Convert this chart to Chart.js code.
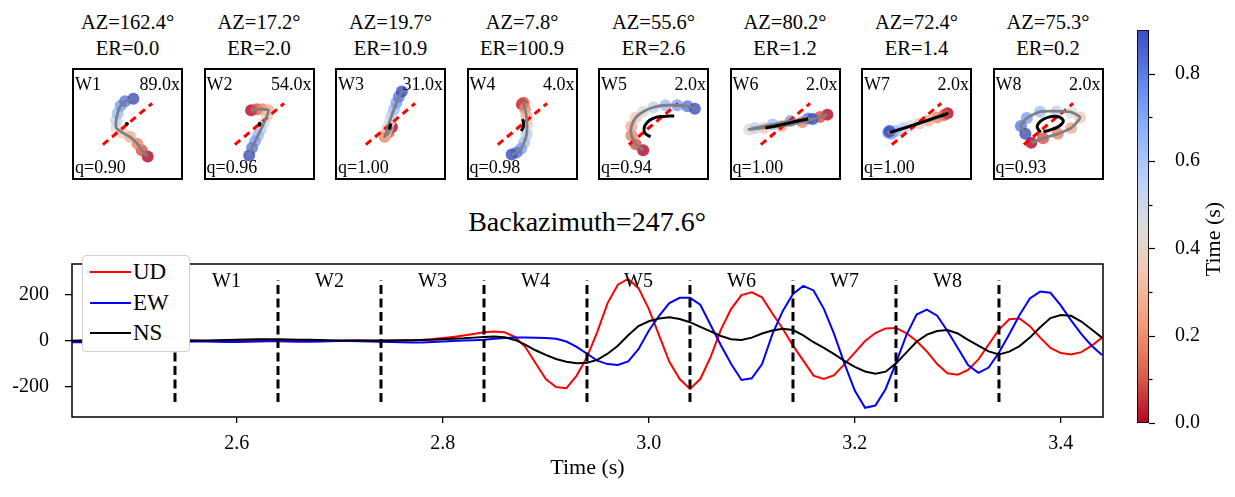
<!DOCTYPE html>
<html lang="en">
<head>
<meta charset="UTF-8">
<title>Particle motion windows</title>
<script src="https://cdn.jsdelivr.net/npm/chart.js@4"></script>
<style>
  body { margin: 0; width: 1235px; height: 497px; background: #fff; position: relative; overflow: hidden;
         font-family: "Liberation Serif", "DejaVu Serif", serif; color: #000; }
  .pm { position: absolute; top: 68px; width: 111px; height: 112px; border: 2px solid #000; box-sizing: border-box; }
  .pm canvas { position: absolute; left: 0; top: 0; }
  .ttl { position: absolute; top: 10px; width: 160px; text-align: center; font-size: 20.5px; line-height: 25.5px; }
  .tag { position: absolute; font-size: 18px; line-height: 18px; white-space: nowrap; }
  #title { position: absolute; left: 337px; width: 500px; top: 206px; text-align: center; font-size: 28px; line-height: 32px; }
  #legend { position: absolute; left: 82px; top: 255px; width: 108px; height: 97px; box-sizing: border-box;
            border: 1px solid #cfcfcf; border-radius: 4px; background: #fff; }
  .lrow { position: absolute; left: 0; height: 26px; font-size: 23px; line-height: 26px; }
  .lrow span.sw { position: absolute; left: 7px; top: 12px; width: 41px; height: 2px; }
  .lrow span.tx { position: absolute; left: 50px; top: 0; }
  #cbtitle { position: absolute; left: 1163px; top: 226px; width: 100px; text-align: center; font-size: 22px; line-height: 26px;
             transform: rotate(-90deg); }
  canvas { display: block; }
</style>
</head>
<body>

<div id="panels"></div>
<div id="title">Backazimuth=247.6°</div>
<canvas id="wave" width="1120" height="261" style="position:absolute;left:0;top:236px;"></canvas>
<div id="legend"></div>
<canvas id="cbar" width="135" height="497" style="position:absolute;left:1100px;top:0;"></canvas>
<div id="cbtitle">Time (s)</div>

<script>
// waveform samples, 2.44 s to 3.44 s every 0.01 s
var sampleStart = 2.44
var sampleStep = 0.01

var seriesNames = ['UD', 'EW', 'NS']
var seriesColors = ['#ff0000', '#0000ff', '#000000']

var udValues = [0,1,2,2,1,0,0,1,2,3, 3,2,1,0,0,1,2,3,4,4, 3,2,1,0,-1,0,1,2,2,1, 1,2,3,4,
  6,9,13,18,24,31,38,42,38,18,-25,-95,-165,-200,-205,-150,
  -70,40,165,245,270,230,140,25,-90,-165,-208,-165,-70,50,140,200,212,190,
  120,55,-20,-85,-150,-165,-148,-100,-50,0,35,55,57,35,0,-45,
  -100,-140,-146,-125,-80,-15,50,95,98,65,15,-30,-52,-58,-48,-20,15]

var ewValues = [-5,-5,-6,-5,-4,-3,-3,-4,-5,-5, -4,-3,-2,-2,-3,-4,-4,-3,-2,-1, -1,-2,-3,-3,-2,-1,0,0,-1,-2, -3,-4,-5,-6,
  -6,-4,-2,0,2,4,6,10,13,15,15,14,13,10,-2,-25,
  -55,-85,-100,-104,-88,-35,45,110,165,188,188,158,70,-18,-100,-169,-162,-100,
  30,130,205,240,220,140,30,-98,-215,-290,-280,-208,-95,25,115,137,110,
  44,-30,-104,-138,-115,-50,30,113,185,215,210,155,90,30,-20,-60]

var nsValues = [1,2,2,1,0,0,1,2,2,3, 4,4,3,3,4,5,6,7,8,8, 8,7,6,6,5,4,3,2,2,2, 3,3,4,4,
  5,6,8,10,12,15,18,20,17,5,-15,-40,-60,-78,-90,-96,
  -94,-82,-55,-20,25,65,86,98,104,96,82,62,42,22,8,5,15,33,
  46,54,48,25,-5,-30,-57,-86,-112,-132,-142,-133,-97,-50,-3,28,44,
  48,33,5,-20,-45,-58,-46,-22,15,60,100,113,110,85,50,15]

var xTicks = [2.6, 2.8, 3.0, 3.2, 3.4]
var yTicks = [-200, 0, 200]

// analysis windows
var windowEdges = [2.54, 2.64, 2.74, 2.84, 2.94, 3.04, 3.14, 3.24, 3.34]
var windowNames = ['W1', 'W2', 'W3', 'W4', 'W5', 'W6', 'W7', 'W8']
var windowAz = ['162.4', '17.2', '19.7', '7.8', '55.6', '80.2', '72.4', '75.3']
var windowER = ['0.0', '2.0', '10.9', '100.9', '2.6', '1.2', '1.4', '0.2']
var windowGain = ['89.0', '54.0', '31.0', '4.0', '2.0', '2.0', '2.0', '2.0']
var windowQ = ['0.90', '0.96', '1.00', '0.98', '0.94', '1.00', '1.00', '0.93']

// particle motion (E, N) in panel units, scaled by the gain
var motionScaled = [
  [[0.41,-0.66],[0.29,-0.53],[0.20,-0.40],[0.05,-0.26],[-0.11,-0.17],[-0.23,-0.08],[-0.23,0.07],[-0.20,0.22],[-0.14,0.37],[-0.05,0.46],[0.12,0.51]],
  [[-0.17,0.28],[-0.06,0.30],[0.06,0.30],[0.18,0.28],[0.15,0.16],[0.09,0.02],[0.03,-0.11],[-0.03,-0.23],[-0.09,-0.35],[-0.15,-0.48],[-0.21,-0.64]],
  [[0.03,-0.06],[-0.04,-0.17],[-0.12,-0.26],[-0.10,-0.20],[-0.06,-0.08],[-0.02,0.04],[0.02,0.16],[0.07,0.30],[0.12,0.43],[0.17,0.55],[0.23,0.66]],
  [[-0.01,0.40],[0.02,0.43],[0.05,0.31],[0.08,0.16],[0.09,0.01],[0.09,-0.14],[0.08,-0.23],[0.03,-0.38],[-0.03,-0.50],[-0.12,-0.58],[-0.22,-0.62]],
  [[-0.21,-0.53],[-0.36,-0.41],[-0.45,-0.23],[-0.45,-0.05],[-0.36,0.13],[-0.21,0.25],[0.00,0.34],[0.24,0.38],[0.48,0.38],[0.69,0.36],[0.84,0.31]],
  [[0.85,0.19],[0.70,0.14],[0.34,0.04],[-0.08,-0.04],[-0.44,-0.08],[-0.74,-0.11],[-0.62,-0.08],[-0.26,-0.01],[0.10,0.06],[0.46,0.11],[0.55,0.10]],
  [[0.63,0.22],[0.56,0.18],[0.42,0.13],[0.24,0.07],[0.06,0.01],[-0.12,-0.04],[-0.27,-0.08],[-0.42,-0.14],[-0.51,-0.20],[-0.57,-0.17],[-0.55,-0.14]],
  [[-0.35,-0.38],[-0.11,-0.29],[0.19,-0.20],[0.46,-0.08],[0.64,0.13],[0.46,0.24],[0.16,0.26],[-0.17,0.25],[-0.44,0.12],[-0.56,-0.04],[-0.47,-0.20]]
]
// unscaled particle motion
var motionActual = [
  [[-0.015,0.0],[-0.01,0.005]],
  [[0.0,-0.02],[0.005,0.01]],
  [[-0.02,-0.08],[0.0,-0.02]],
  [[0.0,0.10],[0.02,0.03],[0.02,-0.04],[0.0,-0.10],[-0.03,-0.14]],
  [[-0.06,-0.26],[-0.17,-0.19],[-0.19,-0.08],[-0.13,0.03],[-0.02,0.11],[0.14,0.15],[0.30,0.16],[0.42,0.16]],
  [[-0.41,-0.08],[-0.10,-0.02],[0.20,0.05],[0.46,0.10]],
  [[-0.54,-0.17],[-0.30,-0.10],[0.0,0.0],[0.30,0.10],[0.62,0.21],[0.50,0.16]],
  [[-0.16,-0.17],[-0.23,-0.06],[-0.16,0.06],[0.0,0.14],[0.20,0.15],[0.30,0.07],[0.22,-0.04],[0.04,-0.12],[-0.10,-0.16]]
]
var azLine = [[-0.5,-0.42],[0.5,0.42]]

var cbarTicks = [0, 0.1, 0.2, 0.3, 0.4, 0.5, 0.6, 0.7, 0.8]

var serif = '"Liberation Serif", "DejaVu Serif", serif'

// coolwarm, reversed (red = early)
var cmapStops = ['#b40426','#de604c','#f49a7b','#f4c4ad','#dddcdc','#b8d0f9','#8db0fe','#6282ea','#3b4cc0']
function hexRgb(h) {
  return [parseInt(h.substr(1,2),16), parseInt(h.substr(3,2),16), parseInt(h.substr(5,2),16)]
}
function timeColor(f, alpha) {
  var p = f * (cmapStops.length - 1)
  var i = Math.min(Math.floor(p), cmapStops.length - 2)
  var r = p - i
  var a = hexRgb(cmapStops[i]), b = hexRgb(cmapStops[i+1])
  var c = a.map(function(v, k) { return Math.round(v + (b[k] - v) * r) })
  return 'rgba(' + c[0] + ',' + c[1] + ',' + c[2] + ',' + alpha + ')'
}

Chart.defaults.font.family = serif
Chart.defaults.color = '#000'

// ---------- particle motion panels ----------
var panelsDiv = document.getElementById('panels')
windowNames.forEach(function(name, i) {
  var left = 72 + i * 131.5
  var t = document.createElement('div')
  t.className = 'ttl'
  t.style.left = (left + 55.5 - 80) + 'px'
  t.innerHTML = 'AZ=' + windowAz[i] + '°<br>ER=' + windowER[i]
  panelsDiv.appendChild(t)

  var box = document.createElement('div')
  box.className = 'pm'
  box.style.left = left + 'px'
  var cv = document.createElement('canvas')
  cv.width = 107; cv.height = 108
  box.appendChild(cv)
  var tags = [[name, 'left:1px;top:5px;'], [windowGain[i] + 'x', 'right:1px;top:5px;'], ['q=' + windowQ[i], 'left:1px;top:88px;']]
  tags.forEach(function(tg) {
    var d = document.createElement('div')
    d.className = 'tag'
    d.style.cssText = tg[1]
    d.textContent = tg[0]
    box.appendChild(d)
  })
  panelsDiv.appendChild(box)

  var pts = motionScaled[i].map(function(p) { return {x: p[0], y: p[1]} })
  var blk = motionActual[i].map(function(p) { return {x: p[0], y: p[1]} })
  new Chart(cv, {
    type: 'scatter',
    data: { datasets: [
      { data: blk, showLine: true, borderColor: '#000', borderWidth: 3, pointRadius: blk.length < 3 ? 1.8 : 0,
        pointBackgroundColor: '#000', pointBorderWidth: 0, tension: 0.3, order: 0 },
      { data: pts, showLine: true, borderColor: '#808080', borderWidth: 2.8, pointRadius: 0, tension: 0.2, order: 1 },
      { data: azLine.map(function(p) { return {x: p[0], y: p[1]} }), showLine: true, borderColor: '#ff0000',
        borderDash: [7, 5], borderWidth: 3, pointRadius: 0, order: 2 },
      { data: pts, showLine: false, pointRadius: 6, pointBorderWidth: 0,
        pointBackgroundColor: pts.map(function(p, k) { return timeColor(k / (pts.length - 1), 0.8) }), order: 3 }
    ]},
    options: {
      responsive: false, animation: false,
      layout: { padding: 0 },
      plugins: { legend: { display: false }, tooltip: { enabled: false } },
      scales: {
        x: { display: false, min: -0.964, max: 0.964 },
        y: { display: false, min: -0.973, max: 0.973 }
      }
    }
  })
})

// ---------- waveforms ----------
function toPoints(vals) {
  return vals.map(function(v, k) { return {x: +(sampleStart + k * sampleStep).toFixed(2), y: v} })
}
var waveSets = [udValues, ewValues, nsValues].map(function(vals, i) {
  return { label: seriesNames[i], data: toPoints(vals), showLine: true, borderColor: seriesColors[i],
           borderWidth: 2, pointRadius: 0, order: 3 - i }
})
var dashSpan = 265
var dashSets = windowEdges.map(function(e) {
  return { data: [{x: e, y: -dashSpan}, {x: e, y: dashSpan}], showLine: true, borderColor: '#000',
           borderWidth: 3, borderDash: [9, 4.5], pointRadius: 0, order: -1 }
})

var framePlugin = {
  id: 'frame',
  afterDraw: function(chart) {
    var a = chart.chartArea, c = chart.ctx
    c.save()
    c.strokeStyle = '#000'
    c.lineWidth = 1.5
    c.strokeRect(a.left, a.top, a.right - a.left, a.bottom - a.top)
    c.restore()
  }
}
var windowLabelPlugin = {
  id: 'wlabels',
  afterDatasetsDraw: function(chart) {
    var c = chart.ctx, xs = chart.scales.x, ys = chart.scales.y
    c.save()
    c.font = '20px ' + serif
    c.fillStyle = '#000'
    c.textAlign = 'center'
    c.textBaseline = 'middle'
    windowNames.forEach(function(n, i) {
      var mid = (windowEdges[i] + windowEdges[i+1]) / 2
      c.fillText(n, xs.getPixelForValue(mid), ys.getPixelForValue(258))
    })
    c.restore()
  }
}

new Chart(document.getElementById('wave'), {
  type: 'scatter',
  data: { datasets: waveSets.concat(dashSets) },
  options: {
    responsive: false, animation: false,
    layout: { padding: { left: 0, right: 17, top: 8, bottom: 12 } },
    plugins: { legend: { display: false }, tooltip: { enabled: false } },
    scales: {
      x: {
        type: 'linear', min: 2.44, max: 3.441,
        afterBuildTicks: function(s) { s.ticks = xTicks.map(function(v) { return {value: v} }) },
        afterFit: function(s) { s.height = 68 },
        ticks: { font: { size: 20 }, color: '#000', padding: 9, maxRotation: 0,
                 callback: function(v) { return v.toFixed(1) } },
        grid: { drawOnChartArea: false, tickLength: 6, color: '#000', lineWidth: 1.3 },
        border: { display: false },
        title: { display: true, text: 'Time (s)', font: { size: 22 }, color: '#000', padding: { top: 4, bottom: 4 } }
      },
      y: {
        min: -330, max: 335,
        afterBuildTicks: function(s) { s.ticks = yTicks.map(function(v) { return {value: v} }) },
        afterFit: function(s) { s.width = 72 },
        ticks: { font: { size: 20 }, color: '#000', padding: 16, callback: function(v) { return String(v) } },
        grid: { drawOnChartArea: false, tickLength: 7, color: '#000', lineWidth: 1.3 },
        border: { display: false }
      }
    }
  },
  plugins: [framePlugin, windowLabelPlugin]
})

// legend
var legendDiv = document.getElementById('legend')
seriesNames.forEach(function(n, i) {
  var row = document.createElement('div')
  row.className = 'lrow'
  row.style.top = (3 + i * 30.5) + 'px'
  row.innerHTML = '<span class="sw" style="background:' + seriesColors[i] + '"></span><span class="tx">' + n + '</span>'
  legendDiv.appendChild(row)
})

// ---------- colorbar ----------
var cbarTickPlugin = {
  id: 'cbticks',
  afterDraw: function(chart) {
    var a = chart.chartArea, c = chart.ctx, ys = chart.scales.y
    c.save()
    c.strokeStyle = '#000'
    c.lineWidth = 1.2
    cbarTicks.forEach(function(v, k) {
      var y = Math.round(ys.getPixelForValue(v)) + 0.5
      var len = k % 2 === 0 ? 6 : 3.5
      c.beginPath()
      c.moveTo(a.right, y)
      c.lineTo(a.right + len, y)
      c.stroke()
    })
    c.restore()
  }
}
new Chart(document.getElementById('cbar'), {
  type: 'bar',
  data: { labels: ['t'], datasets: [{
    data: [[0, 0.9]],
    backgroundColor: function(ctx) {
      var a = ctx.chart.chartArea
      if (!a) return '#ccc'
      var g = ctx.chart.ctx.createLinearGradient(0, a.bottom, 0, a.top)
      cmapStops.forEach(function(col, k) { g.addColorStop(k / (cmapStops.length - 1), col) })
      return g
    },
    borderColor: '#000', borderWidth: 1.2, borderSkipped: false,
    barPercentage: 1, categoryPercentage: 1
  }]},
  options: {
    responsive: false, animation: false,
    layout: { padding: { left: 37, right: 6, top: 28, bottom: 74 } },
    plugins: { legend: { display: false }, tooltip: { enabled: false } },
    scales: {
      x: { display: false },
      y: {
        position: 'right', min: 0, max: 0.9,
        afterBuildTicks: function(s) { s.ticks = cbarTicks.map(function(v) { return {value: v} }) },
        afterFit: function(s) { s.width = 80 },
        ticks: { font: { size: 20 }, color: '#000', padding: 18,
                 callback: function(v, k) { return k % 2 === 0 ? v.toFixed(1) : '' } },
        grid: { display: false },
        border: { display: false }
      }
    }
  },
  plugins: [cbarTickPlugin]
})
</script>
</body>
</html>
